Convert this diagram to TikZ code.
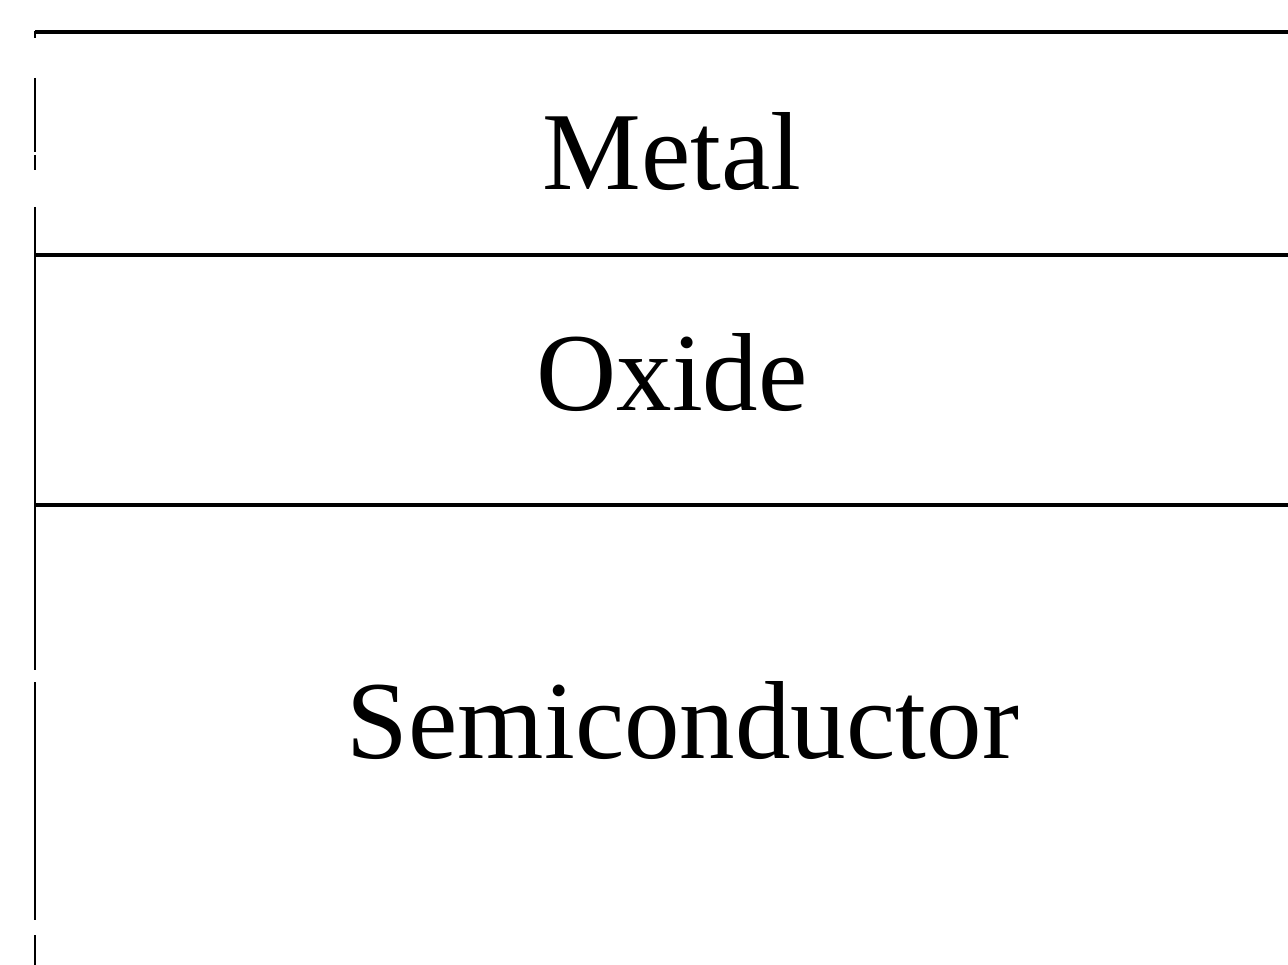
\documentclass[tikz,border=0pt]{standalone}
\usepackage{fontspec}
\setmainfont{Liberation Serif}
\begin{document}
\begin{tikzpicture}[x=1pt,y=-1pt,
  layerline/.style={line width=3.6pt,black},
  sideline/.style={line width=2.6pt,black},
  layerlabel/.style={anchor=base,inner sep=0pt,font=\fontsize{111}{120}\selectfont}]
\useasboundingbox (0,0) rectangle (1288,965);
% coordinates of the frame
\coordinate (tl) at (35,32);
\coordinate (tr) at (1288,32);
\coordinate (m1l) at (35,255);
\coordinate (m1r) at (1288,255);
\coordinate (m2l) at (35,505);
\coordinate (m2r) at (1288,505);
\coordinate (bl) at (35,965);
% horizontal layer boundaries
\draw[layerline] (tl) -- (tr);
\draw[layerline] (m1l) -- (m1r);
\draw[layerline] (m2l) -- (m2r);
% left edge (broken as in the scan)
\draw[sideline] (35,31) -- (35,38);
\draw[sideline] (35,78) -- (35,152);
\draw[sideline] (35,155) -- (35,170);
\draw[sideline] (35,207) -- (35,670);
\draw[sideline] (35,682) -- (35,920);
\draw[sideline] (35,935) -- (bl);
% labels
\node[layerlabel] (metal) at (672,190) {Metal};
\node[layerlabel] (oxide) at (672,410) {Oxide};
\node[layerlabel] (semi) at (683,758) {Semiconductor};
\end{tikzpicture}
\end{document}
